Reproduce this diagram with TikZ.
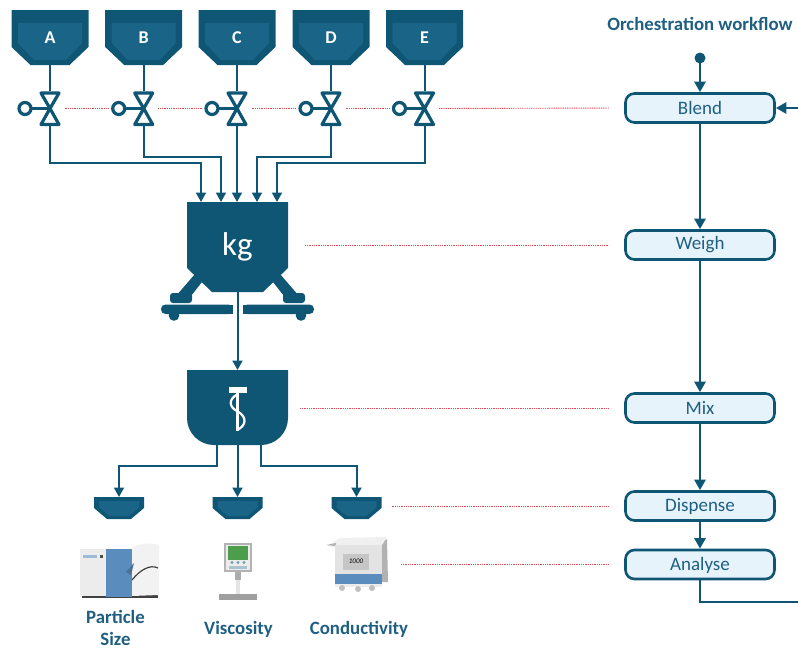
\documentclass[tikz,border=0pt]{standalone}
\usepackage{fontspec}
\setmainfont{Carlito}
\usetikzlibrary{arrows.meta,calc}
\definecolor{dk}{HTML}{0F5674}
\definecolor{md}{HTML}{1A6488}
\definecolor{tx}{HTML}{1F5F82}
\definecolor{pale}{HTML}{E6F3FA}
\definecolor{redl}{HTML}{E8474F}
\definecolor{instblue}{HTML}{5A8DBE}
\tikzset{
 x=1pt,y=-1pt,
 pipe/.style={draw=dk,line width=2pt,-{Triangle[length=9.5pt,width=10pt]}},
 pipeplain/.style={draw=dk,line width=2pt},
 flow/.style={draw=dk,line width=2.8pt,-{Triangle[length=10.5pt,width=11pt]}},
 flowplain/.style={draw=dk,line width=2.8pt},
 redlink/.style={draw=redl,line width=0.9pt,dash pattern=on 1pt off 0.8pt},
 stepbox/.style={draw=dk,line width=2.6pt,fill=pale,rounded corners=9pt,minimum width=149pt,minimum height=29pt,inner sep=0pt,text=tx,font=\fontsize{19}{19}\selectfont},
 steptext/.style={text=tx,inner sep=0pt,font=\fontsize{19}{19}\selectfont},
 anchorbox/.style={inner sep=0pt,outer sep=0pt},
 lbl/.style={text=tx,font=\fontsize{18.8}{22}\selectfont\bfseries,align=center,inner sep=0pt},
}
\newcommand\hopperAt[2]{%
 \fill[dk] (#1-38.5,10) -- (#1+38.5,10) -- (#1+38.5,47) -- (#1+19.5,65) -- (#1-19.5,65) -- (#1-38.5,47) -- cycle;
 \fill[md] (#1-32,23) -- (#1+32,23) -- (#1+32,43) -- (#1+16,60) -- (#1-16,60) -- (#1-32,43) -- cycle;
 \node[anchorbox,minimum width=77pt,minimum height=55pt,text=white,font=\fontsize{18}{18}\selectfont\bfseries] (h#2) at (#1,37.5) {#2};
 \draw[dk,line width=3.2pt,line join=round,fill=white] (#1-9,93) -- (#1+9,93) -- (#1,108.5) -- cycle;
 \draw[dk,line width=3.2pt,line join=round,fill=white] (#1-9,124.5) -- (#1+9,124.5) -- (#1,108.5) -- cycle;
 \node[anchorbox,minimum width=21pt,minimum height=35pt] (v#2) at (#1,108.5) {};
 \node[anchorbox,circle,draw=dk,line width=3.2pt,fill=white,minimum size=12pt] (c#2) at (#1-25,108.5) {};
 \draw[dk,line width=2.8pt] (c#2.east) -- (v#2.center);
 \draw[pipeplain] (h#2.south) -- (v#2.north);
}
\newcommand\minihopper[2]{%
 \fill[dk] (#1-25,497) -- (#1+25,497) -- (#1+25,508) -- (#1+12,519) -- (#1-12,519) -- (#1-25,508) -- cycle;
 \fill[md] (#1-20,501) -- (#1+20,501) -- (#1+20,507.5) -- (#1+9.5,516) -- (#1-9.5,516) -- (#1-20,507.5) -- cycle;
 \node[anchorbox,minimum width=50pt,minimum height=22pt] (#2) at (#1,508) {};
}
\begin{document}
\begin{tikzpicture}
\useasboundingbox (0,0) rectangle (798,648);
% source hoppers and valves
\hopperAt{50}{A}
\hopperAt{143.7}{B}
\hopperAt{237}{C}
\hopperAt{331}{D}
\hopperAt{424.5}{E}
% weigh hopper
\fill[dk] (187,202) -- (288,202) -- (288,268) -- (263,292) -- (212,292) -- (187,268) -- cycle;
\fill[dk] (195,274) -- (202,282) -- (191,296) -- (176,296) -- cycle;
\fill[dk] (280,274) -- (273,282) -- (284,296) -- (299,296) -- cycle;
\fill[dk,rounded corners=3pt] (170,293) rectangle (192,303);
\fill[dk,rounded corners=3pt] (283,293) rectangle (305,303);
\fill[dk,rounded corners=4.5pt] (161,304.5) -- (233,304.5) -- (233,314) -- (161,314) -- cycle;
\fill[dk,rounded corners=4.5pt] (243,304.5) -- (314,304.5) -- (314,314) -- (243,314) -- cycle;
\fill[dk] (165,304.5) rectangle (233,314);
\fill[dk] (243,304.5) rectangle (310,314);
\fill[dk] (174,315.5) circle (5.3);
\fill[dk] (301,315.5) circle (5.3);
\node[anchorbox,minimum width=101pt,minimum height=90pt,text=white,font=\fontsize{33}{33}\selectfont] (kg) at (237.5,247) {kg};
% mixer
\fill[dk] (187,370) -- (288,370) -- (288,418) arc[start angle=0,end angle=90,radius=27] -- (214,445) arc[start angle=90,end angle=180,radius=27] -- cycle;
\node[anchorbox,minimum width=101pt,minimum height=75pt] (mix) at (237.5,407.5) {};
\fill[white] (229,386.5) rectangle (247,392.5);
\draw[white,line width=2.4pt] (237.5,392) -- (237.5,431);
\draw[white,line width=2.2pt] (238,394) .. controls (228,399) and (229,407) .. (237,411) .. controls (248,417) and (246,426) .. (237,430);
% mini hoppers
\minihopper{119}{dA}
\minihopper{237.5}{dB}
\minihopper{356.5}{dC}
% pipes to weigh
\coordinate (inA) at (201,202);
\coordinate (inB) at (221,202);
\coordinate (inC) at (237,202);
\coordinate (inD) at (257,202);
\coordinate (inE) at (277,202);
\draw[pipe] (vA.south) -- (vA.south |- 0,163) -| (inA);
\draw[pipe] (vB.south) -- (vB.south |- 0,157) -| (inB);
\draw[pipe] (vC.south) -- (inC);
\draw[pipe] (vD.south) -- (vD.south |- 0,157) -| (inD);
\draw[pipe] (vE.south) -- (vE.south |- 0,163) -| (inE);
\draw[pipe] (kg.south) -- (mix.north);
\coordinate (outA) at (217,445);
\coordinate (outC) at (261,445);
\draw[pipe] (outA) -- (217,466) -| (dA.north);
\draw[pipe] (mix.south) -- (dB.north);
\draw[pipe] (outC) -- (261,466) -| (dC.north);
% particle size instrument
\node[anchorbox,minimum width=80pt,minimum height=54pt] (pA) at (120,570) {};
\fill[black!75] (82,594) rectangle (158,597.5);
\fill[gray!15] (80,549) rectangle (106,596);
\fill[gray!10] (132,549) .. controls (134,544) and (152,542) .. (159,545) -- (159,595) -- (132,596) -- cycle;
\fill[instblue] (106,548.5) rectangle (132,597);
\draw[black!75,line width=1.2pt] (132,580) .. controls (140,570) and (150,564) .. (158,568);
\fill[instblue!80!black] (126,572) -- (134,563) -- (131,575) -- cycle;
\fill[instblue!60] (83,555) rectangle (97,557.5);
\fill[black!70] (100,555) rectangle (103,557.5);
% viscosity instrument
\node[anchorbox,minimum width=38pt,minimum height=58pt] (pB) at (238,571) {};
\fill[gray!60] (224,542.5) rectangle (252,572);
\fill[gray!15] (226,544.5) rectangle (250,570);
\fill[green!45!black!70] (228,546) rectangle (248,560);
\fill[cyan!40!gray] (232,562.5) circle (1.6) (238,562.5) circle (1.6) (244,562.5) circle (1.6);
\fill[cyan!30!gray!60] (229,566) rectangle (247,568.5);
\fill[gray!65] (235,572) rectangle (241,580);
\fill[gray!20] (236,580) rectangle (240,594);
\fill[gray!75] (219,594) rectangle (257,599.5);
% conductivity instrument
\node[anchorbox,minimum width=63pt,minimum height=58pt] (pC) at (356.5,566) {};
\fill[gray!60] (381,542) -- (387,539) -- (388,582) -- (381,582) -- cycle;
\fill[gray!12] (327,546) -- (340,538) -- (387,537) -- (382,545) -- (335,548) -- cycle;
\fill[gray!60] (326,545) -- (336,543) -- (336,546) -- cycle;
\fill[gray!22] (335,545) rectangle (382,575);
\fill[instblue] (335,574) rectangle (382,585);
\fill[gray!15] (335,584) rectangle (382,587);
\fill[gray!50] (342,588) circle (3) (358,589) circle (3) (372,588) circle (3);
\fill[gray!45] (343,554) rectangle (369,570);
\node[text=black,font=\fontsize{7}{7}\selectfont\itshape,inner sep=0pt] (rd) at (356,561) {1000};
% labels
\node[lbl,text depth=0pt] (lA) at (115.5,617) {Particle};
\node[lbl,text depth=0pt] (lAb) at (115.5,639) {Size};
\node[lbl] (lB) at (238.5,629) {Viscosity};
\node[lbl] (lC) at (359,629) {Conductivity};
\node[lbl] (title) at (700,24) {Orchestration workflow};
% workflow
\node[stepbox] (blend) at (700,108) {};
\node[stepbox] (weigh) at (700,245) {};
\node[stepbox] (mixs) at (700,408) {};
\node[stepbox] (disp) at (700,506) {};
\node[stepbox] (ana) at (700,564.5) {};
\node[steptext] (tblend) at (700,108) {Blend};
\node[steptext] (tweigh) at (700,244.5) {Weigh};
\node[steptext] (tmix) at (700,408) {Mix};
\node[steptext] (tdisp) at (700,506) {Dispense};
\node[steptext] (tana) at (700,565) {Analyse};
\fill[dk] (700,58) circle (5.5);
\coordinate (start) at (700,58);
\coordinate (fbA) at (798,602);
\coordinate (fbB) at (798,108);
\draw[flow] (start) -- (blend.north);
\draw[flow] (blend.south) -- (weigh.north);
\draw[flow] (weigh.south) -- (mixs.north);
\draw[flow] (mixs.south) -- (disp.north);
\draw[flow] (disp.south) -- (ana.north);
\draw[flowplain] (ana.south) |- (fbA);
\draw[flow] (fbB) -- (blend.east);
% red links
\draw[redlink,shorten <=4pt,shorten >=4pt] (vA.east) -- (cB.west);
\draw[redlink,shorten <=4pt,shorten >=4pt] (vB.east) -- (cC.west);
\draw[redlink,shorten <=4pt,shorten >=4pt] (vC.east) -- (cD.west);
\draw[redlink,shorten <=4pt,shorten >=4pt] (vD.east) -- (cE.west);
\draw[redlink,shorten <=4pt,shorten >=15pt] (vE.east) -- (blend.west);
\draw[redlink,shorten <=17pt,shorten >=15pt] (kg.east |- weigh) -- (weigh.west);
\draw[redlink,shorten <=12pt,shorten >=15pt] (mix.east |- mixs) -- (mixs.west);
\draw[redlink,shorten <=10pt,shorten >=15pt] (dC.east |- disp) -- (disp.west);
\draw[redlink,shorten <=13pt,shorten >=15pt] (pC.east |- ana) -- (ana.west);
\end{tikzpicture}
\end{document}
